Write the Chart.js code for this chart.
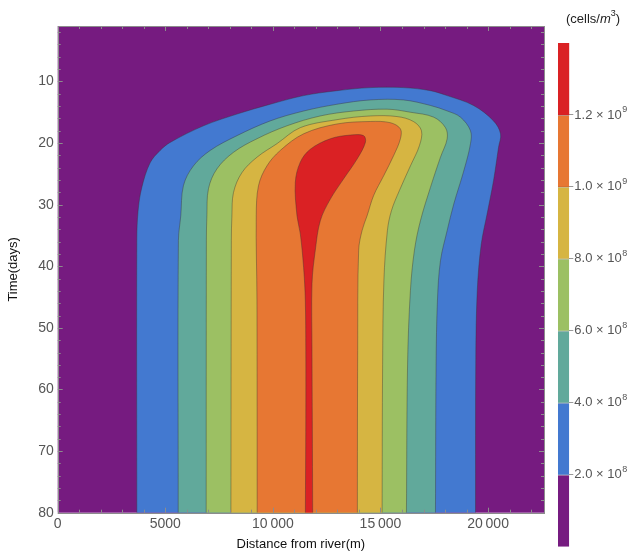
<!DOCTYPE html>
<html>
<head>
<meta charset="utf-8">
<script src="https://cdn.jsdelivr.net/npm/chart.js@4.4.1/dist/chart.umd.min.js"></script>
<style>
  body { margin: 0; background: #fff; }
  #wrap { position: relative; width: 633px; height: 552px; }
</style>
</head>
<body>
<div id="wrap">
  <div style="position:absolute;left:0;top:0;width:560px;height:552px"><canvas id="main"></canvas></div>
  <div style="position:absolute;left:520px;top:0;width:113px;height:552px"><canvas id="bar"></canvas></div>
</div>
<script>
// contour boundaries, [distance (m), time (days)], traced round each level
const level2e8 = [[3676,80],[3676,35.8],[3736,31.0],[3909,27.2],[4295,23.2],[4760,21.2],[5225,19.9],[6775,17.2],[8329,15.3],[9878,13.7],[11428,12.3],[12982,11.5],[14531,11.0],[16067,11.0],[17324,11.5],[18100,12.3],[19324,13.9],[20255,16.4],[20580,18.5],[20487,20.7],[20255,26.1],[19962,31.4],[19680,36.5],[19500,43.9],[19430,55],[19417,80]];
const level4e8 = [[5600,80],[5610,35.8],[5720,31.8],[5844,26.9],[6309,23.7],[7086,21.2],[8329,18.8],[9878,16.4],[11428,14.8],[12982,13.7],[14531,13.0],[16067,13.0],[17324,13.9],[18114,14.8],[18719,15.8],[19184,18.0],[19184,20.1],[18873,24.5],[18407,29.9],[18100,34.2],[17788,39.1],[17649,45.5],[17585,56],[17556,80]];
const level6e8 = [[6900,80],[6910,35.8],[6933,31.8],[7007,27.4],[7398,24.2],[8171,21.5],[9260,19.3],[10655,17.2],[12205,15.6],[13754,14.8],[15308,14.5],[16393,15.0],[17477,15.8],[18021,17.5],[18100,19.3],[17788,22.3],[17323,27.2],[16858,32.6],[16579,37.4],[16393,43.9],[16260,56],[16207,80]];
const level8e8 = [[8050,80],[8070,35.8],[8096,31.8],[8171,28.0],[8561,24.8],[9260,22.3],[10190,20.1],[11274,17.5],[12982,16.2],[14531,15.6],[15774,15.7],[16532,16.5],[16905,18.0],[16812,20.4],[16393,23.7],[15881,27.7],[15509,31.0],[15323,34.2],[15160,42.3],[15100,56],[15076,80]];
const level1e9 = [[9270,80],[9260,45.5],[9227,31.8],[9334,26.9],[9725,23.7],[10344,21.2],[11428,18.5],[12982,16.9],[14531,16.5],[15462,16.7],[15927,17.7],[15927,19.3],[15616,22.0],[15150,25.3],[14685,28.5],[14378,31.8],[14145,34.2],[13987,37.4],[13941,53.7],[13927,80]];
const level12e8 = [[11510,80],[11530,65.0],[11530,53.7],[11507,45.5],[11428,40.2],[11274,34.7],[11121,31.8],[11042,26.4],[11274,23.1],[11740,21.0],[12670,19.3],[13601,18.7],[14220,18.8],[14299,19.9],[13912,22.6],[13289,25.8],[12670,29.1],[12205,32.6],[11972,37.4],[11819,42.8],[11819,53.7],[11833,65.0],[11850,80]];

const distTicks = [0, 5000, 10000, 15000, 20000];
const timeTicks = [10, 20, 30, 40, 50, 60, 70, 80];
const distRange = [0, 22600];
const timeRange = [1, 80];
const distMinor = 1000;
const timeMinor = 2;

const cbLevels = [0, 2e8, 4e8, 6e8, 8e8, 1e9, 1.2e9, 1.4e9];
const cbTicks = [2e8, 4e8, 6e8, 8e8, 1e9, 1.2e9];

const purple = '#761b80';
const cbColors = [purple, '#4379d0', '#61a99b', '#9cc063', '#d6b542', '#e77733', '#da2124'];
const FONT = "'Liberation Sans', Arial, sans-serif";
Chart.defaults.font.family = FONT;

// innermost level first so it is drawn last (on top)
const contours = [level12e8, level1e9, level8e8, level6e8, level4e8, level2e8];
const contourColors = cbColors.slice(1).reverse();

const bgPlugin = {
  id: 'bg',
  beforeDraw(chart) {
    const {ctx, chartArea: a} = chart;
    ctx.save();
    ctx.fillStyle = purple;
    ctx.fillRect(a.left, a.top, a.right - a.left, a.bottom - a.top);
    ctx.restore();
  }
};

const framePlugin = {
  id: 'frame',
  afterDatasetsDraw(chart) {
    const {ctx, chartArea: a, scales} = chart;
    ctx.save();
    ctx.strokeStyle = 'rgba(140,140,140,1)';
    ctx.lineWidth = 1;
    ctx.beginPath();
    for (let v = distRange[0]; v <= distRange[1]; v += distMinor) {
      const px = Math.round(scales.x.getPixelForValue(v)) + 0.5;
      const len = v % 5000 === 0 ? 5 : 3;
      ctx.moveTo(px, a.bottom); ctx.lineTo(px, a.bottom - len);
      ctx.moveTo(px, a.top); ctx.lineTo(px, a.top + len);
    }
    for (let t = timeMinor; t <= timeRange[1]; t += timeMinor) {
      const py = Math.round(scales.y.getPixelForValue(t)) + 0.5;
      const len = t % 10 === 0 ? 5 : 3;
      ctx.moveTo(a.left, py); ctx.lineTo(a.left + len, py);
      ctx.moveTo(a.right, py); ctx.lineTo(a.right - len, py);
    }
    ctx.stroke();
    ctx.strokeRect(Math.round(a.left) + 0.5, Math.round(a.top) + 0.5, Math.round(a.right - a.left), Math.round(a.bottom - a.top));
    ctx.restore();
  }
};

function distLabel(v) {
  const s = String(v);
  return v >= 10000 ? s.slice(0, -3) + '\u2009' + s.slice(-3) : s;
}

new Chart(document.getElementById('main'), {
  type: 'line',
  data: {
    datasets: contours.map((pts, i) => ({
      data: pts.map(p => ({x: p[0], y: p[1]})),
      backgroundColor: contourColors[i],
      borderColor: 'rgba(60,50,50,0.5)',
      borderWidth: 0.8,
      fill: 'shape',
      tension: 0.35,
      pointRadius: 0
    }))
  },
  options: {
    responsive: true,
    maintainAspectRatio: false,
    animation: false,
    layout: {padding: {top: 0, right: 15, bottom: 0, left: 0}},
    plugins: {legend: {display: false}, tooltip: {enabled: false}},
    scales: {
      x: {
        type: 'linear', position: 'bottom', min: distRange[0], max: distRange[1],
        afterBuildTicks: s => { s.ticks = distTicks.map(v => ({value: v})); },
        ticks: {color: '#555', padding: 3, maxRotation: 0, autoSkip: false, font: {size: 14}, callback: v => distLabel(v)},
        grid: {display: false, drawTicks: false},
        border: {display: false},
        title: {display: true, text: 'Distance from river(m)', color: '#111', font: {size: 13}, padding: 0},
        afterFit: s => { s.height = 39.3; }
      },
      x2: {
        type: 'linear', position: 'top', min: distRange[0], max: distRange[1],
        ticks: {display: false}, grid: {display: false, drawTicks: false}, border: {display: false},
        afterFit: s => { s.height = 26; }
      },
      y: {
        type: 'linear', position: 'left', reverse: true, min: timeRange[0], max: timeRange[1],
        afterBuildTicks: s => { s.ticks = timeTicks.map(v => ({value: v})); },
        ticks: {color: '#555', padding: 4, font: {size: 14}},
        grid: {display: false, drawTicks: false},
        border: {display: false},
        title: {display: true, text: 'Time(days)', color: '#111', font: {size: 13}, padding: {top: 6, bottom: 0}},
        afterFit: s => { s.width = 57.7; }
      },
      y2: {
        type: 'linear', position: 'right', reverse: true, min: timeRange[0], max: timeRange[1],
        ticks: {display: false}, grid: {display: false, drawTicks: false}, border: {display: false},
        afterFit: s => { s.width = 1; }
      }
    }
  },
  plugins: [bgPlugin, framePlugin]
});

// colour bar labels: mantissa x 10 with a raised exponent
function cbParts(v) {
  return v < 1e9 ? [(v / 1e8).toFixed(1) + ' \u00d7 10', '8'] : [(v / 1e9).toFixed(1) + ' \u00d7 10', '9'];
}

const cbText = {
  id: 'cbText',
  afterDraw(chart) {
    const ctx = chart.ctx;
    const scale = chart.scales.y;
    ctx.save();
    ctx.fillStyle = '#555';
    ctx.textBaseline = 'middle';
    scale.ticks.forEach(t => {
      const y = scale.getPixelForValue(t.value);
      const [m, e] = cbParts(t.value);
      const x = scale.left + 5;
      ctx.font = '13px ' + FONT;
      ctx.fillText(m, x, y);
      const w = ctx.measureText(m).width;
      ctx.font = '9px ' + FONT;
      ctx.fillText(e, x + w + 0.5, y - 5);
    });
    // title
    const parts = [['(cells/', '13px ' + FONT, 0], ['m', 'italic 13px ' + FONT, 0], ['3', '9px ' + FONT, -5], [')', '13px ' + FONT, 0]];
    ctx.fillStyle = '#222';
    let w = 0;
    parts.forEach(p => { ctx.font = p[1]; w += ctx.measureText(p[0]).width; });
    let x = 73 - w / 2;
    parts.forEach(p => { ctx.font = p[1]; ctx.fillText(p[0], x, 19 + p[2]); x += ctx.measureText(p[0]).width; });
    ctx.restore();
  }
};

new Chart(document.getElementById('bar'), {
  type: 'bar',
  data: {
    labels: [''],
    datasets: cbLevels.slice(0, -1).map((lv, i) => ({
      data: [cbLevels[i + 1] - lv],
      backgroundColor: cbColors[i],
      borderColor: 'rgba(0,0,0,0.25)',
      borderWidth: {top: i < cbLevels.length - 2 ? 1 : 0, bottom: 0, left: 0, right: 0},
      borderSkipped: false,
      barPercentage: 1,
      categoryPercentage: 1
    }))
  },
  options: {
    responsive: true,
    maintainAspectRatio: false,
    animation: false,
    layout: {padding: {left: 38, top: 43, bottom: 5.3, right: 0}},
    plugins: {legend: {display: false}, tooltip: {enabled: false}},
    scales: {
      x: {stacked: true, display: false},
      y: {
        stacked: true, position: 'right', min: cbLevels[0], max: cbLevels[cbLevels.length - 1],
        afterBuildTicks: s => { s.ticks = cbTicks.map(v => ({value: v})); },
        ticks: {display: false},
        grid: {drawOnChartArea: false, drawTicks: true, tickLength: 4, color: '#999'},
        border: {display: false},
        afterFit: s => { s.width = 63.7; }
      }
    }
  },
  plugins: [cbText]
});
</script>
</body>
</html>
